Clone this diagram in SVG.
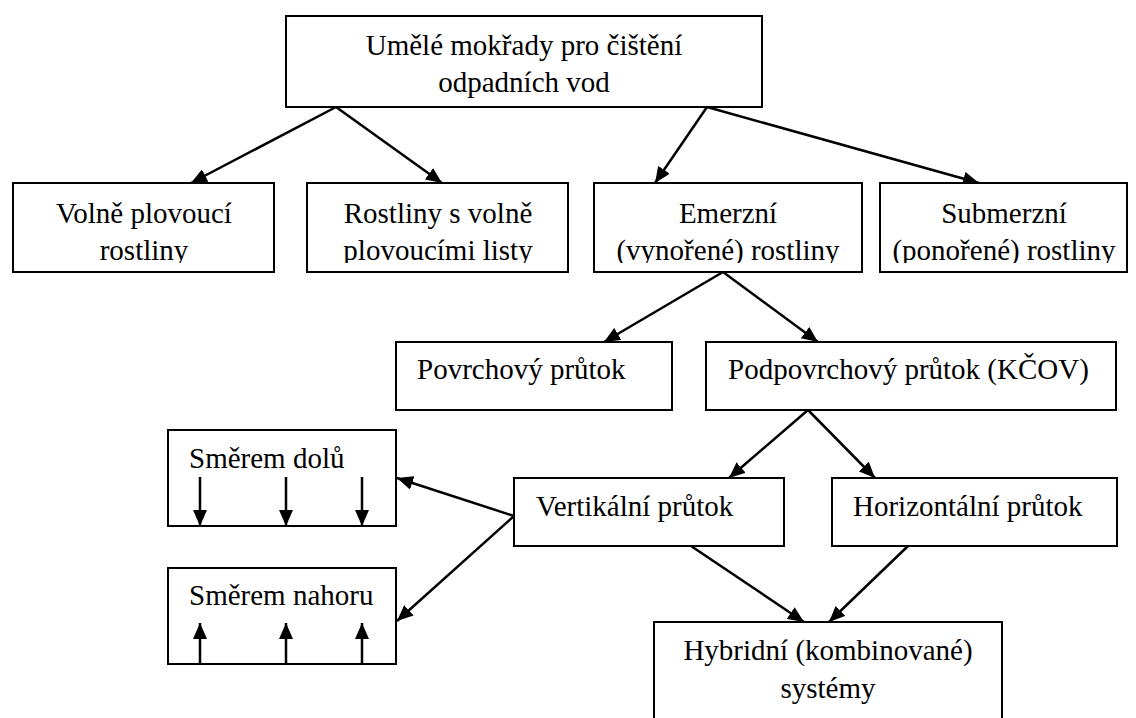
<svg xmlns="http://www.w3.org/2000/svg" width="1136" height="718" viewBox="0 0 1136 718">
<style>
.box{fill:#fff;stroke:#000;stroke-width:2}
.t{font-family:"Liberation Serif","Times New Roman",serif;font-size:29px;fill:#000}
.c{text-anchor:middle}
.ln{stroke:#000;stroke-width:2.5;fill:none;marker-end:url(#ah)}
</style>
<defs>
<marker id="ah" viewBox="0 0 16 14" refX="16" refY="7" markerWidth="16" markerHeight="14" markerUnits="userSpaceOnUse" orient="auto">
<path d="M0,0 L16,7 L0,14 z" fill="#000"/>
</marker>
<clipPath id="row2"><rect x="0" y="183" width="1136" height="80"/></clipPath>
</defs>
<rect width="1136" height="718" fill="#fff"/>
<g id="connectors">
<line class="ln" x1="336" y1="107" x2="191" y2="183"/>
<line class="ln" x1="336" y1="107" x2="442" y2="183"/>
<line class="ln" x1="707" y1="107" x2="655" y2="183"/>
<line class="ln" x1="707" y1="107" x2="979" y2="183"/>
<line class="ln" x1="723" y1="272" x2="604" y2="342"/>
<line class="ln" x1="723" y1="272" x2="818" y2="342"/>
<line class="ln" x1="808" y1="410" x2="729" y2="478"/>
<line class="ln" x1="808" y1="410" x2="875" y2="478"/>
<line class="ln" x1="514" y1="516" x2="397" y2="478"/>
<line class="ln" x1="514" y1="516" x2="397" y2="621"/>
<line class="ln" x1="691" y1="546" x2="804" y2="622"/>
<line class="ln" x1="908" y1="546" x2="829" y2="622"/>
</g>
<g id="n-top">
<rect class="box" x="286" y="16" width="476" height="91"/>
<text class="t c" x="524" y="55">Umělé mokřady pro čištění</text>
<text class="t c" x="524" y="92">odpadních vod</text>
</g>
<g id="n-volne">
<rect class="box" x="13" y="183" width="261" height="89"/>
<g clip-path="url(#row2)">
<text class="t c" x="144" y="223">Volně plovoucí</text>
<text class="t c" x="144" y="260">rostliny</text>
</g>
</g>
<g id="n-listy">
<rect class="box" x="307" y="183" width="261" height="89"/>
<g clip-path="url(#row2)">
<text class="t c" x="438" y="223">Rostliny s volně</text>
<text class="t c" x="438" y="260">plovoucími listy</text>
</g>
</g>
<g id="n-emerzni">
<rect class="box" x="594" y="183" width="268" height="89"/>
<g clip-path="url(#row2)">
<text class="t c" x="728" y="223">Emerzní</text>
<text class="t c" x="728" y="260">(vynořené) rostliny</text>
</g>
</g>
<g id="n-submerzni">
<rect class="box" x="880" y="183" width="247" height="89"/>
<g clip-path="url(#row2)">
<text class="t c" x="1004" y="223">Submerzní</text>
<text class="t c" x="1004" y="260">(ponořené) rostliny</text>
</g>
</g>
<g id="n-povrch">
<rect class="box" x="396" y="342" width="276" height="68"/>
<text class="t" x="417" y="379">Povrchový průtok</text>
</g>
<g id="n-podpovrch">
<rect class="box" x="706" y="342" width="410" height="68"/>
<text class="t" x="728" y="379">Podpovrchový průtok (KČOV)</text>
</g>
<g id="n-vert">
<rect class="box" x="514" y="478" width="270" height="68"/>
<text class="t" x="536" y="516">Vertikální průtok</text>
</g>
<g id="n-horiz">
<rect class="box" x="832" y="478" width="285" height="68"/>
<text class="t" x="853" y="516">Horizontální průtok</text>
</g>
<g id="n-dolu">
<rect class="box" x="168" y="430" width="228" height="96"/>
<text class="t" x="189" y="468">Směrem dolů</text>
<line class="ln" x1="200" y1="477" x2="200" y2="526"/>
<line class="ln" x1="286" y1="477" x2="286" y2="526"/>
<line class="ln" x1="362" y1="477" x2="362" y2="526"/>
</g>
<g id="n-nahoru">
<rect class="box" x="168" y="568" width="228" height="96"/>
<text class="t" x="189" y="605">Směrem nahoru</text>
<line class="ln" x1="200" y1="664" x2="200" y2="623"/>
<line class="ln" x1="286" y1="664" x2="286" y2="623"/>
<line class="ln" x1="362" y1="664" x2="362" y2="623"/>
</g>
<g id="n-hybrid">
<rect class="box" x="654" y="622" width="348" height="110"/>
<text class="t c" x="828" y="660">Hybridní (kombinované)</text>
<text class="t c" x="828" y="698">systémy</text>
</g>
</svg>
